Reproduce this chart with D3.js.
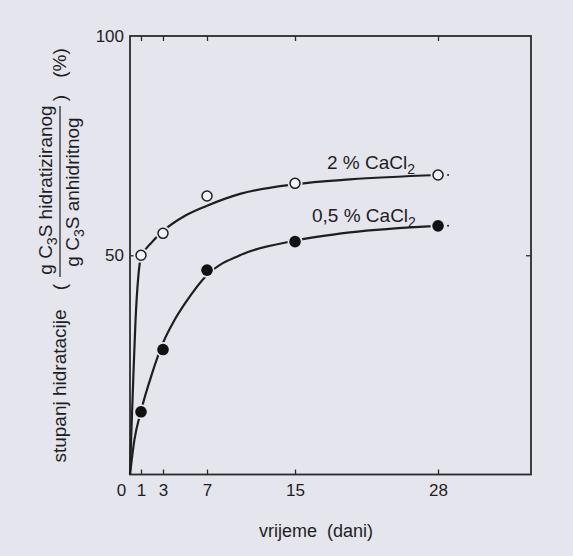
<!DOCTYPE html>
<html>
<head>
<meta charset="utf-8">
<script src="https://cdn.jsdelivr.net/npm/d3@7"></script>
<style>
  html, body { margin: 0; padding: 0; background: #e5e5ed; }
  svg { display: block; font-family: "Liberation Sans", Arial, sans-serif; }
</style>
</head>
<body>
<script>
"use strict";
(function(){
  // measured points (days, % hydrated)
  const days = [1, 3, 7, 15, 28]
  const cacl2High = [50.0, 55.0, 63.5, 66.4, 68.3]   // 2 % CaCl2, open circles
  const cacl2Low = [14.3, 28.5, 46.6, 53.1, 56.7]    // 0,5 % CaCl2, filled circles

  // hand-drawn fitted curves
  const fitDaysHigh = [0, 0.1, 0.3, 0.5, 0.75, 1, 2, 3, 5, 7, 10, 15, 20, 28]
  const fitHigh = [0, 8, 22, 35, 45, 49.5, 53, 55.5, 59, 61.3, 64, 66.2, 67.3, 68.3]
  const fitDaysLow = [0, 0.4, 1, 2, 3, 4, 5, 7, 10, 15, 20, 28]
  const fitLow = [0, 7.9, 14.5, 23, 30, 35, 39, 45.5, 50, 53.3, 55.2, 56.7]

  const xTicks = [0, 1, 3, 7, 15, 28]
  const yTicks = [50, 100]

  const m = { width: 573, height: 556 }
  const bg = '#e5e5ed'
  const ink = '#1e1e22'
  const font = '"Liberation Sans", Arial, sans-serif'

  const svg = d3.select('body').append('svg')
      .attr('width', m.width)
      .attr('height', m.height)

  const x = d3.scaleLinear().domain([0, 36.45]).range([130, 531])
  const y = d3.scaleLinear().domain([0, 100]).range([474.5, 36])

  // frame
  svg.append('rect')
      .attr('x', x(0)).attr('y', y(100))
      .attr('width', x(36.45) - x(0)).attr('height', y(0) - y(100))
      .attr('fill', 'none').attr('stroke', '#2a2a30').attr('stroke-width', 1.8)

  // inner ticks on all sides
  const bottomAx = svg.append('g')
      .attr('transform', 'translate(0,' + y(0) + ')')
      .call(d3.axisBottom(x).tickValues(xTicks).tickSizeInner(-5).tickSizeOuter(0).tickPadding(9))
  bottomAx.select('.domain').remove()
  bottomAx.selectAll('.tick line').filter(d => d == 0).remove()
  bottomAx.selectAll('text').attr('font-size', 17).attr('fill', ink)
      .attr('font-family', font)
      .attr('dx', d => d == 0 ? -9 : 0)

  const topAx = svg.append('g')
      .attr('transform', 'translate(0,' + y(100) + ')')
      .call(d3.axisTop(x).tickValues(xTicks.slice(1)).tickSizeInner(-5).tickSizeOuter(0).tickFormat(''))
  topAx.select('.domain').remove()

  const leftAx = svg.append('g')
      .attr('transform', 'translate(' + x(0) + ',0)')
      .call(d3.axisLeft(y).tickValues(yTicks).tickSizeInner(-5).tickSizeOuter(0).tickPadding(6))
  leftAx.select('.domain').remove()
  leftAx.selectAll('.tick line').filter(d => d == 100).remove()
  leftAx.selectAll('text').attr('font-size', 17).attr('fill', ink)
      .attr('font-family', font)

  const rightAx = svg.append('g')
      .attr('transform', 'translate(' + x(36.45) + ',0)')
      .call(d3.axisRight(y).tickValues([50]).tickSizeInner(-5).tickSizeOuter(0).tickFormat(''))
  rightAx.select('.domain').remove()
  svg.selectAll('.tick line').attr('stroke', '#2a2a30').attr('stroke-width', 1.3)

  // curves
  const line = d3.line()
      .x(d => x(d[0]))
      .y(d => y(d[1]))
      .curve(d3.curveMonotoneX)

  svg.append('path')
      .datum(d3.zip(fitDaysHigh, fitHigh))
      .attr('d', line)
      .attr('fill', 'none').attr('stroke', ink).attr('stroke-width', 2.2)
  svg.append('path')
      .datum(d3.zip(fitDaysLow, fitLow))
      .attr('d', line)
      .attr('fill', 'none').attr('stroke', ink).attr('stroke-width', 2.2)

  // markers, with a halo so the curve breaks around them
  const high = d3.zip(days, cacl2High)
  const low = d3.zip(days, cacl2Low)

  svg.selectAll('.haloH').data(high).enter().append('circle')
      .attr('cx', d => x(d[0])).attr('cy', d => y(d[1]))
      .attr('r', 7.5).attr('fill', bg)
  svg.selectAll('.openC').data(high).enter().append('circle')
      .attr('cx', d => x(d[0])).attr('cy', d => y(d[1]))
      .attr('r', 5).attr('fill', '#f2f2f6').attr('stroke', ink).attr('stroke-width', 1.5)

  svg.selectAll('.haloL').data(low).enter().append('circle')
      .attr('cx', d => x(d[0])).attr('cy', d => y(d[1]))
      .attr('r', 7.5).attr('fill', bg)
  svg.selectAll('.fillC').data(low).enter().append('circle')
      .attr('cx', d => x(d[0])).attr('cy', d => y(d[1]))
      .attr('r', 5.8).attr('fill', '#111')

  // small dots after the last points
  svg.selectAll('.tail').data([high[4], low[4]]).enter().append('circle')
      .attr('cx', d => x(d[0]) + 10).attr('cy', d => y(d[1]))
      .attr('r', 1).attr('fill', ink)

  // curve labels
  function chem(pre, xPos, yPos) {
    const t = svg.append('text')
        .attr('x', xPos).attr('y', yPos)
        .attr('font-size', 19).attr('fill', ink)
    t.append('tspan').text(pre + ' CaCl')
    t.append('tspan').attr('font-size', 14).attr('dy', 5).text('2')
  }
  chem('2 %', 327, 169)
  chem('0,5 %', 312, 222)

  // x label
  svg.append('text')
      .attr('x', 316).attr('y', 537)
      .attr('text-anchor', 'middle')
      .attr('font-size', 18).attr('fill', ink)
      .style('white-space', 'pre')
      .text('vrijeme  (dani)')

  // y label, rotated
  const yl = svg.append('g')
      .attr('transform', 'rotate(-90)')
      .attr('font-size', 19).attr('fill', ink)

  yl.append('text')
      .attr('x', -386).attr('y', 66)
      .attr('text-anchor', 'middle')
      .text('stupanj hidratacije')
  yl.append('text')
      .attr('x', -287).attr('y', 66)
      .attr('text-anchor', 'middle')
      .text('(')

  function c3s(rest, cx, cy) {
    const t = yl.append('text')
        .attr('x', cx).attr('y', cy)
        .attr('text-anchor', 'middle')
    t.append('tspan').text('g C')
    t.append('tspan').attr('font-size', 14).attr('dy', 5).text('3')
    t.append('tspan').attr('dy', -5).text('S ' + rest)
  }
  c3s('hidratiziranog', -190, 52)
  c3s('anhidritnog', -192, 79)

  yl.append('line')
      .attr('x1', -277).attr('x2', -106)
      .attr('y1', 60).attr('y2', 60)
      .attr('stroke', ink).attr('stroke-width', 1.2)

  yl.append('text')
      .attr('x', -98).attr('y', 66)
      .attr('text-anchor', 'middle')
      .text(')')
  yl.append('text')
      .attr('x', -63).attr('y', 66)
      .attr('text-anchor', 'middle')
      .text('(%)')
})();
</script>
</body>
</html>
